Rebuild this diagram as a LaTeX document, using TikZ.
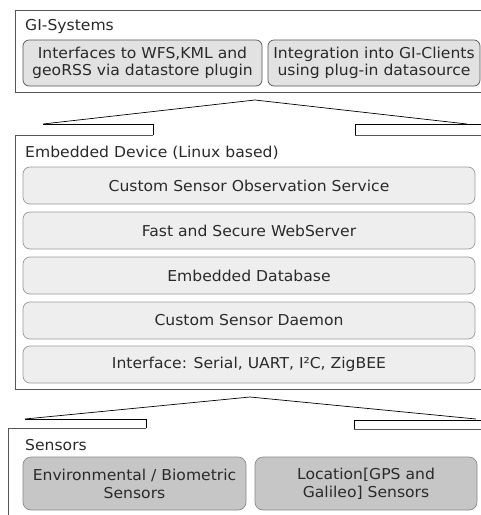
\documentclass[tikz,border=0pt]{standalone}
\usepackage{fontspec}
\setmainfont{DejaVu Sans}[FakeStretch=1.04]
\definecolor{txt}{HTML}{2A2A2A}
\definecolor{frame}{HTML}{555555}
\definecolor{gifill}{HTML}{E2E2E2}
\definecolor{gidraw}{HTML}{555555}
\definecolor{edfill}{HTML}{EEEEEE}
\definecolor{eddraw}{HTML}{999999}
\definecolor{snfill}{HTML}{C6C6C6}
\definecolor{sndraw}{HTML}{8A8A8A}
\begin{document}
\begin{tikzpicture}[x=1pt,y=-1pt,
  every node/.style={font=\fontsize{15}{18}\selectfont, text=txt},
  layer/.style={draw=frame, line width=0.8pt},
  title/.style={anchor=west, inner sep=0pt},
  gibox/.style={draw=gidraw, fill=gifill, rounded corners=6pt, align=center, inner sep=0pt, line width=0.7pt, font=\fontsize{15}{17.5}\selectfont},
  edbox/.style={draw=eddraw, fill=edfill, rounded corners=7pt, inner sep=0pt, line width=0.7pt, minimum width=452pt, minimum height=37pt},
  snbox/.style={draw=sndraw, fill=snfill, rounded corners=8pt, align=center, inner sep=0pt, line width=0.7pt, font=\fontsize{15}{18}\selectfont},
  uparrow/.style={draw=black, line width=0.7pt}
]
\clip (0,0) rectangle (481,515);
\fill[white] (0,0) rectangle (481,515);
% GI-Systems layer
\draw[layer] (500,10) -- (15,10) -- (15,92) -- (500,92);
\node[title] (gi) at (25,26) {GI-Systems};
\node[gibox, minimum width=239pt, minimum height=46pt] (wfs) at (142.5,63) {Interfaces to WFS,KML and\\geoRSS via datastore plugin};
\node[gibox, minimum width=212pt, minimum height=46pt] (cli) at (374,63) {Integration into GI-Clients\\using plug-in datasource};
% arrow 1
\draw[uparrow] (43,124) -- (255,100) -- (467,124);
\draw[uparrow] (43,124) -- (153,124) -- (153,135);
\draw[uparrow] (355,135) -- (355,124) -- (500,124);
% Embedded device layer
\draw[layer] (153,135) -- (15,135) -- (15,389) -- (500,389);
\draw[layer] (355,135) -- (500,135);
\node[title] (ed) at (25,153) {Embedded Device (Linux based)};
\node[edbox] (sos) at (249,185.5) {Custom Sensor Observation Service};
\node[edbox] (web) at (249,230.5) {Fast and Secure WebServer};
\node[edbox] (db) at (249,275.5) {Embedded Database};
\node[edbox] (dae) at (249,320.5) {Custom Sensor Daemon};
\node[edbox] (ifc) at (249,364.5) {Interface: Serial, UART, I²C, ZigBEE};
% arrow 2
\draw[uparrow] (25,419) -- (250,397) -- (476,419);
\draw[uparrow] (25,419) -- (146,419) -- (146,428);
\draw[uparrow] (354,429) -- (354,420) -- (500,420);
% Sensors layer
\draw[layer] (146,428) -- (8,428) -- (8,530);
\draw[layer] (354,429) -- (500,429);
\node[title] (sn) at (25,445) {Sensors};
\node[snbox, minimum width=223pt, minimum height=53pt] (env) at (134.5,483.5) {Environmental / Biometric\\Sensors};
\node[snbox, minimum width=222pt, minimum height=53pt] (loc) at (366,483.5) {Location[GPS and\\Galileo] Sensors};
\end{tikzpicture}
\end{document}
